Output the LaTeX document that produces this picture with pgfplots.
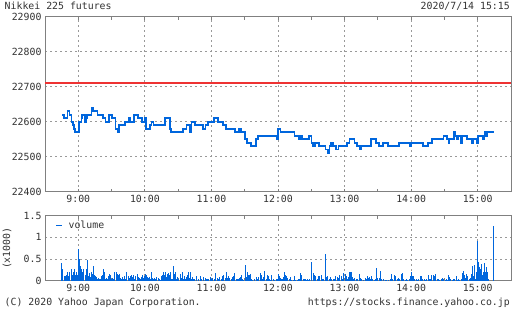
\documentclass[border=0pt]{standalone}
\usepackage{fontspec}
\setmainfont{DejaVu Sans Mono}
\usepackage{pgfplots}
\pgfplotsset{compat=1.18}
\definecolor{vblue}{HTML}{0066DD}
\definecolor{refred}{RGB}{238,51,51}
\definecolor{txt}{HTML}{333333}
\definecolor{frm}{HTML}{808080}
\definecolor{grd}{HTML}{999999}
\newcommand{\chartfont}{\fontsize{9.9}{11}\selectfont}
\pgfplotsset{
  chartbase/.style={
    scale only axis, width=466bp,
    xmin=0, xmax=420,
    xtick={30,90,150,210,270,330,390},
    xticklabels={9:00,10:00,11:00,12:00,13:00,14:00,15:00},
    minor xtick={60,120,180,240,300,360},
    xmajorgrids, ymajorgrids,
    major grid style={draw=grd, dash pattern=on 2bp off 3bp, line width=0.8bp},
    axis line style={draw=frm, line width=1bp},
    tick align=inside, xtick pos=both,
    x tick style={draw=frm, line width=0.8bp},
    major tick length=3bp, minor tick length=3bp,
    y tick style={draw=none},
    tick label style={font=\chartfont, text=txt},
    /pgf/number format/assume math mode=true,
    scaled y ticks=false,
  }
}
\begin{document}
\begin{tikzpicture}
\useasboundingbox[fill=white] (0,0) rectangle (512bp,310bp);
\begin{axis}[chartbase, at={(45bp,118.3bp)}, anchor=south west, height=175bp,
  ymin=22400, ymax=22900, ytick={22400,22500,22600,22700,22800,22900},
  yticklabels={22400,22500,22600,22700,22800,22900}]
\addplot[color=refred, line width=1.5bp, forget plot] coordinates {(0,22710) (420,22710)};
\addplot[color=vblue, const plot, line width=1.6bp] coordinates {
(15.6,22620) (17.1,22610) (20.1,22630) (22.2,22620) (24,22600) (25.2,22590) (26.1,22580) (27,22570)
(30.6,22600) (33,22610) (33.6,22620) (36,22600) (36.9,22610) (37.8,22620) (42,22640) (43.2,22630)
(47.4,22620) (52.5,22610) (54.6,22600) (57.9,22620) (60.6,22610) (63.6,22580) (66,22570) (66.9,22590)
(72,22600) (75.6,22610) (76.8,22600) (80.4,22620) (84,22610) (87.6,22600) (90,22610) (90.9,22580)
(94.5,22590) (96,22600) (97.8,22590) (108,22610) (112.5,22580) (113.4,22570) (124.5,22580) (127.5,22590)
(130.8,22570) (132,22600) (135,22590) (142.5,22580) (144.6,22590) (147,22600) (152.4,22610) (156,22600)
(160.5,22590) (162.9,22580) (171,22570) (174.9,22580) (176.4,22570) (180,22550) (182.1,22540) (185.4,22530)
(189.9,22550) (192,22560) (209.1,22550) (210,22580) (212.4,22570) (225,22560) (228.9,22550) (230.1,22560)
(231.6,22550) (237.9,22560) (240.3,22540) (241.5,22530) (243.6,22540) (246.9,22530) (252.9,22520) (255,22510)
(256.5,22530) (258,22540) (259.5,22530) (262.5,22520) (264.6,22530) (272.1,22540) (274.5,22550) (279,22540)
(281.1,22530) (284.1,22520) (285,22530) (294,22550) (298.5,22540) (300.9,22530) (304.5,22540) (309,22530)
(318.9,22540) (329.1,22530) (329.7,22540) (340.5,22530) (345,22540) (348.9,22550) (359.1,22560) (362.1,22550)
(363.9,22540) (364.5,22550) (368.4,22570) (369.9,22560) (371.4,22550) (372,22560) (375,22540) (375.6,22560)
(380.1,22550) (384.9,22540) (385.5,22550) (389.1,22540) (390,22560) (394.5,22550) (395.4,22560) (396,22570)
(397.5,22560) (398.4,22570) (404.4,22570)};
\end{axis}
\begin{axis}[chartbase, at={(45bp,29.3bp)}, anchor=south west, height=65bp,
  ymin=0, ymax=1.5, ytick={0,0.5,1,1.5}, yticklabels={0,0.5,1,1.5},
  ylabel={(x1000)}, ylabel style={font=\chartfont, text=txt, at={(axis description cs:-0.0815,0.5)}, anchor=center},
  legend style={at={(axis description cs:0,1)}, anchor=north west, draw=none, fill=none,
    inner sep=0pt, xshift=10bp, yshift=-3bp, font=\chartfont, text=txt},
  legend image code/.code={\draw[color=vblue, line width=1.8bp] (0bp,0bp) -- (6bp,0bp); \path (10bp,0bp);}]
\addplot[ycomb, color=vblue, line width=1bp] coordinates {
(15.3,0.42) (16.2,0.26) (17.4,0.10) (18.3,0.10) (19.2,0.14) (20.1,0.19) (21.3,0.10) (22.5,0.19)
(23.7,0.26) (24.9,0.14) (26.1,0.19) (27.0,0.26) (27.9,0.14) (28.8,0.19) (29.7,0.14) (30.6,0.74)
(31.5,0.50) (32.4,0.35) (33.3,0.26) (34.2,0.21) (35.1,0.26) (36.3,0.14) (37.2,0.26) (38.1,0.48)
(39.0,0.11) (39.9,0.17) (40.8,0.08) (42.0,0.21) (42.9,0.16) (43.8,0.33) (44.7,0.13) (45.6,0.10)
(46.5,0.08) (47.4,0.05) (48.3,0.07) (49.2,0.03) (50.1,0.05) (51.0,0.11) (51.9,0.14) (52.8,0.26)
(53.7,0.19) (54.6,0.03) (55.5,0.07) (56.4,0.05) (57.3,0.10) (58.2,0.16) (59.1,0.14) (60.0,0.03)
(60.9,0.07) (61.8,0.03) (63.0,0.19) (64.2,0.19) (65.1,0.16) (66.0,0.14) (66.9,0.16) (67.8,0.07)
(69.0,0.03) (70.2,0.08) (71.1,0.03) (72.0,0.12) (72.9,0.03) (73.8,0.19) (75.0,0.10) (75.9,0.07)
(76.8,0.11) (77.7,0.14) (78.9,0.08) (79.8,0.14) (81.0,0.05) (81.9,0.11) (83.1,0.16) (84.0,0.08)
(84.9,0.07) (85.8,0.03) (86.7,0.08) (87.6,0.13) (88.8,0.07) (89.7,0.10) (90.6,0.16) (91.5,0.13)
(92.4,0.08) (93.6,0.07) (94.5,0.08) (95.4,0.03) (96.3,0.19) (97.2,0.07) (98.1,0.03) (99.0,0.07)
(99.9,0.03) (100.8,0.08) (102.0,0.07) (102.9,0.03) (103.8,0.02) (105.0,0.12) (105.9,0.13) (106.8,0.19)
(107.7,0.14) (108.6,0.21) (109.5,0.08) (110.4,0.16) (111.3,0.17) (112.2,0.13) (113.1,0.19) (114.0,0.03)
(114.9,0.05) (115.8,0.33) (116.7,0.16) (117.6,0.19) (118.5,0.03) (119.7,0.08) (120.6,0.03) (121.8,0.16)
(122.7,0.07) (123.6,0.20) (124.5,0.03) (125.4,0.10) (126.6,0.03) (127.5,0.08) (128.4,0.14) (129.3,0.19)
(130.2,0.07) (131.1,0.19) (132.0,0.03) (132.9,0.08) (133.8,0.03) (135.0,0.03) (136.8,0.10) (138.6,0.03)
(139.8,0.10) (141.0,0.03) (142.8,0.08)
(144.3,0.07) (145.2,0.03) (146.4,0.05) (147.6,0.03) (148.8,0.08) (150.0,0.03) (151.2,0.07) (152.4,0.03)
(153.9,0.17) (155.1,0.07) (156.3,0.03) (157.5,0.08) (159.0,0.03) (160.2,0.11) (161.1,0.13) (162.3,0.07)
(163.2,0.21) (164.4,0.07) (165.6,0.10) (166.5,0.07) (167.7,0.03) (168.9,0.08) (170.1,0.10) (171.0,0.17)
(172.2,0.05) (173.4,0.03) (174.3,0.03) (175.2,0.07) (176.1,0.08) (177.0,0.13) (177.9,0.03) (179.1,0.02)
(180.3,0.37) (181.2,0.08) (182.1,0.21) (183.0,0.14) (184.2,0.14) (185.1,0.15) (186.0,0.03) (187.2,0.02)
(189.0,0.03) (190.2,0.08) (191.4,0.03) (192.6,0.08) (193.8,0.17) (194.7,0.13) (195.6,0.03) (196.8,0.08)
(198.0,0.23) (199.2,0.03) (200.1,0.13) (201.0,0.10) (201.9,0.03) (203.1,0.02) (204.3,0.13) (205.8,0.03)
(207.0,0.02) (208.2,0.03) (209.7,0.03) (210.3,0.16) (211.2,0.11) (212.4,0.07) (213.3,0.05) (214.2,0.03)
(215.1,0.08) (216.0,0.21) (216.9,0.14) (218.1,0.11) (219.0,0.07) (220.2,0.03) (221.4,0.08) (222.6,0.02)
(223.8,0.02) (225.0,0.10) (226.2,0.02) (227.4,0.02) (228.6,0.03) (229.8,0.03) (230.7,0.17) (231.6,0.14)
(232.8,0.03) (234.0,0.03) (234.9,0.03) (235.8,0.02) (236.7,0.03) (237.6,0.02) (238.8,0.03) (240.0,0.14)
(240.6,0.44) (241.8,0.17) (243.0,0.13) (244.2,0.10) (245.4,0.03) (246.6,0.10) (247.8,0.10) (249.0,0.14)
(250.2,0.03) (251.4,0.03) (252.6,0.61) (253.8,0.08) (255.0,0.11) (256.2,0.05) (257.4,0.08) (258.6,0.03)
(259.8,0.03) (261.0,0.03) (262.2,0.10) (263.4,0.08) (264.6,0.07) (265.8,0.13) (267.0,0.10) (268.2,0.03)
(269.4,0.17) (270.6,0.16) (271.8,0.10) (272.7,0.03) (273.6,0.08) (274.5,0.19) (275.4,0.21) (276.3,0.19)
(277.2,0.08) (278.1,0.05)
(279.0,0.07) (280.5,0.03) (282.0,0.03) (283.5,0.15) (284.4,0.06) (285.6,0.03) (287.1,0.01) (288.6,0.06)
(289.5,0.03) (290.4,0.10) (291.6,0.07) (292.5,0.09) (293.4,0.03) (294.3,0.10) (295.5,0.03) (297.0,0.01)
(298.2,0.03) (299.1,0.29) (300.0,0.07) (301.2,0.07) (302.7,0.23) (303.6,0.04) (304.8,0.03) (306.6,0.01)
(308.1,0.01) (309.6,0.01) (311.1,0.03) (312.3,0.15) (313.5,0.04) (314.7,0.13) (316.2,0.10) (317.4,0.05)
(318.6,0.07) (319.8,0.03) (321.0,0.15) (321.9,0.17) (323.4,0.03) (324.9,0.01) (326.1,0.04) (327.0,0.01)
(328.2,0.03) (329.1,0.12) (330.0,0.20) (331.2,0.11) (332.1,0.10) (333.3,0.04) (334.5,0.03) (335.7,0.01)
(336.9,0.03) (338.1,0.10) (339.3,0.10) (340.5,0.04) (341.7,0.03) (342.9,0.01) (344.1,0.04) (345.3,0.13)
(346.5,0.04) (347.7,0.03) (348.6,0.13) (349.8,0.13) (351.0,0.10) (352.2,0.15) (353.4,0.04) (354.6,0.03)
(355.8,0.01) (357.0,0.04) (358.2,0.07) (359.4,0.03) (360.6,0.01) (361.8,0.03) (363.0,0.01) (363.9,0.13)
(364.8,0.09) (365.7,0.04) (366.9,0.01) (368.1,0.03) (369.3,0.04) (370.5,0.12) (371.7,0.01) (372.9,0.03)
(373.8,0.01) (375.0,0.04) (375.9,0.17) (376.8,0.23) (377.7,0.13) (378.9,0.07) (380.1,0.15) (381.0,0.10)
(382.2,0.03) (383.1,0.06) (384.0,0.15) (384.9,0.33) (385.8,0.10) (387.0,0.37) (387.9,0.04) (388.8,0.20)
(389.7,0.92) (390.6,0.43) (391.5,0.32) (392.4,0.28) (393.3,0.38) (394.2,0.13) (395.1,0.20) (396.0,0.40)
(396.9,0.20) (397.8,0.32) (398.7,0.20) (399.6,0.03) (404.1,1.27)};
\addlegendentry{volume}
\end{axis}
\node[anchor=base west, inner sep=0pt, font=\chartfont, text=txt] at (4.5bp,300.7bp) {Nikkei 225 futures};
\node[anchor=base east, inner sep=0pt, font=\chartfont, text=txt] at (510bp,300.7bp) {2020/7/14 15:15};
\node[anchor=base west, inner sep=0pt, font=\chartfont, text=txt] at (4.5bp,4.5bp) {(C) 2020 Yahoo Japan Corporation.};
\node[anchor=base east, inner sep=0pt, font=\chartfont, text=txt] at (510bp,4.5bp) {https://stocks.finance.yahoo.co.jp};
\end{tikzpicture}
\end{document}
